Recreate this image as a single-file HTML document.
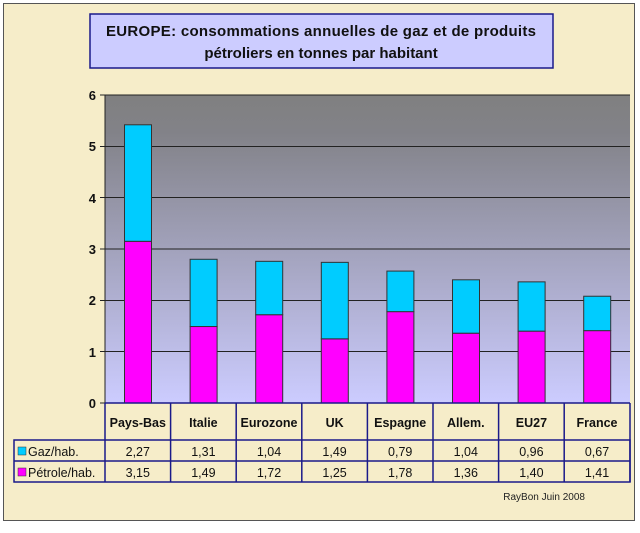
<!DOCTYPE html><html><head><style>body{margin:0;width:640px;height:528px;overflow:hidden;background:#fff}</style></head><body>
<svg width="640" height="528" xmlns="http://www.w3.org/2000/svg" font-family="Liberation Sans, sans-serif">
<defs><linearGradient id="g" x1="0" y1="0" x2="0" y2="1"><stop offset="0" stop-color="#808080"/><stop offset="0.12" stop-color="#828288"/><stop offset="1" stop-color="#ccccff"/></linearGradient></defs>
<rect x="3.5" y="3.5" width="631" height="517" fill="#f6edc9" stroke="#555"/>
<rect x="90" y="14" width="463" height="54" fill="#ccccff" stroke="#1a1a8a" stroke-width="1.5"/>
<text x="321" y="36" font-size="15" font-weight="bold" text-anchor="middle" fill="#111" textLength="430">EUROPE: consommations annuelles de gaz et de produits</text>
<text x="321" y="58" font-size="15" font-weight="bold" text-anchor="middle" fill="#111">pétroliers en tonnes par habitant</text>
<rect x="105" y="95" width="525" height="308" fill="url(#g)"/>
<g stroke="#222" stroke-width="1">
<line x1="100" y1="95" x2="630" y2="95"/><line x1="100" y1="146.5" x2="630" y2="146.5"/><line x1="100" y1="197.5" x2="630" y2="197.5"/><line x1="100" y1="249" x2="630" y2="249"/><line x1="100" y1="300.5" x2="630" y2="300.5"/><line x1="100" y1="351.5" x2="630" y2="351.5"/><line x1="100" y1="403" x2="630" y2="403"/>
<line x1="105" y1="95" x2="105" y2="403"/></g>
<g font-size="13" font-weight="bold" text-anchor="end" fill="#111">
<text x="96" y="100">6</text><text x="96" y="151">5</text><text x="96" y="203">4</text><text x="96" y="254">3</text><text x="96" y="305">2</text><text x="96" y="357">1</text><text x="96" y="408">0</text></g>
<g stroke="#333" stroke-width="1" id="bars"></g>
<g fill="none" stroke="#1a1a8a" stroke-width="1.5" id="tbl"></g>
<g font-size="12.5" text-anchor="middle" fill="#111" id="txt"></g>
<rect x="18" y="447" width="8" height="8" fill="#00ccff" stroke="#333" stroke-width="0.5"/>
<rect x="18" y="468" width="8" height="8" fill="#ff00ff" stroke="#333" stroke-width="0.5"/>
<text x="28" y="456" font-size="12.5" fill="#111">Gaz/hab.</text>
<text x="28" y="477" font-size="12.5" fill="#111">Pétrole/hab.</text>
<text x="585" y="500" font-size="10" text-anchor="end" fill="#222">RayBon Juin 2008</text>
</svg>
<script>
var names=["Pays-Bas","Italie","Eurozone","UK","Espagne","Allem.","EU27","France"];
var gaz=[2.27,1.31,1.04,1.49,0.79,1.04,0.96,0.67],pet=[3.15,1.49,1.72,1.25,1.78,1.36,1.40,1.41];
var ns="http://www.w3.org/2000/svg",u=51.33,b=403,w=65.6;
function el(p,t,a,tx){var e=document.createElementNS(ns,t);for(var k in a)e.setAttribute(k,a[k]);if(tx)e.textContent=tx;document.getElementById(p).appendChild(e);}
for(var i=0;i<8;i++){var x=105+w*i+19.5;
el("bars","rect",{x:x,y:b-pet[i]*u,width:27,height:pet[i]*u,fill:"#ff00ff"});
el("bars","rect",{x:x,y:b-(pet[i]+gaz[i])*u,width:27,height:gaz[i]*u,fill:"#00ccff"});
var c=105+w*(i+0.5);
el("txt","text",{x:c,y:427,"font-weight":"bold"},names[i]);
el("txt","text",{x:c,y:456},gaz[i].toFixed(2).replace(".",","));
el("txt","text",{x:c,y:477},pet[i].toFixed(2).replace(".",","));
el("tbl","line",{x1:105+w*i,y1:403,x2:105+w*i,y2:482});}
el("tbl","line",{x1:630,y1:403,x2:630,y2:482});
el("tbl","line",{x1:105,y1:403,x2:630,y2:403});
el("tbl","rect",{x:14,y:440,width:616,height:42});
el("tbl","line",{x1:14,y1:461,x2:630,y2:461});
</script>
</body></html>
